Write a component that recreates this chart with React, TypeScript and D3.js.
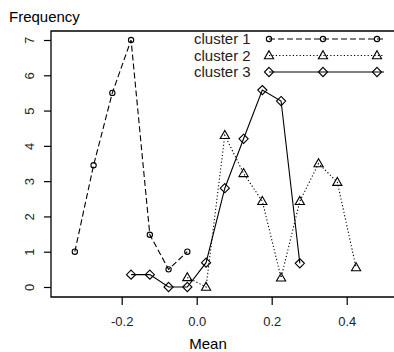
import React, { useEffect, useRef } from "react";
import * as d3 from "d3";

// frequency of cluster means
const c1Mean = [-0.325, -0.275, -0.225, -0.175, -0.125, -0.075, -0.025];
const c1Freq = [1.0, 3.45, 5.5, 7.0, 1.48, 0.5, 1.0];
const c2Mean = [-0.025, 0.025, 0.075, 0.125, 0.175, 0.225, 0.275, 0.325, 0.375, 0.425];
const c2Freq = [0.27, 0.0, 4.3, 3.22, 2.43, 0.26, 2.43, 3.5, 2.97, 0.55];
const c3Mean = [-0.175, -0.125, -0.075, -0.025, 0.025, 0.075, 0.125, 0.175, 0.225, 0.275];
const c3Freq = [0.35, 0.35, 0.0, 0.0, 0.69, 2.8, 4.2, 5.58, 5.27, 0.67];

const legendLabels = ["cluster 1", "cluster 2", "cluster 3"];
const xTicks = [-0.2, 0.0, 0.2, 0.4];
const yTicks = [0, 1, 2, 3, 4, 5, 6, 7];

const W = 394;
const H = 352;
const FONT = "'Liberation Sans', Arial, sans-serif";

const circlePath = d3.symbol(d3.symbolCircle, 22)()!;
const trianglePath = "M0,-4.8L4.6,3.2L-4.6,3.2Z";
const diamondPath = "M0,-4.6L4.6,0L0,4.6L-4.6,0Z";

const series = [
  { mean: c1Mean, freq: c1Freq, dash: "6,3", marker: circlePath },
  { mean: c2Mean, freq: c2Freq, dash: "1.2,2.2", marker: trianglePath },
  { mean: c3Mean, freq: c3Freq, dash: null, marker: diamondPath },
];

export default function App() {
  const ref = useRef<SVGSVGElement>(null);

  useEffect(() => {
    const svg = d3.select(ref.current);
    svg.selectAll("*").remove();

    const left = 51,
      top = 31,
      bottom = 297;

    const x = d3.scaleLinear().domain([-0.2, 0.4]).range([121.7, 346.7]);
    const y = d3.scaleLinear().domain([0, 7]).range([287, 40]);

    svg.append("rect").attr("width", W).attr("height", H).attr("fill", "white");

    // box (cut off on the right in the original)
    svg
      .append("path")
      .attr("d", `M${W},${top}H${left}V${bottom}H${W}`)
      .attr("fill", "none")
      .attr("stroke", "black")
      .attr("stroke-width", 1.3);

    const xAxis = svg
      .append("g")
      .attr("transform", `translate(0,${bottom})`)
      .call(
        d3
          .axisBottom(x)
          .tickValues(xTicks)
          .tickSize(8)
          .tickPadding(12)
          .tickFormat(d3.format(".1f"))
      );
    xAxis.select(".domain").remove();
    xAxis.selectAll("line").attr("stroke-width", 1.2);
    xAxis
      .selectAll("text")
      .attr("font-family", FONT)
      .attr("font-size", 13)
      .attr("fill", "#222")
      .text((d: any) => d3.format(".1f")(d).replace("−", "-"));

    const yAxis = svg
      .append("g")
      .attr("transform", `translate(${left},0)`)
      .call(d3.axisLeft(y).tickValues(yTicks).tickSize(7).tickFormat(d3.format("d")));
    yAxis.select(".domain").remove();
    yAxis.selectAll("line").attr("stroke-width", 1.2);
    yAxis
      .selectAll("text")
      .attr("font-family", FONT)
      .attr("font-size", 13)
      .attr("fill", "#222")
      .attr("x", null)
      .attr("dy", null)
      .attr("text-anchor", "middle")
      .attr("transform", "translate(-17,0) rotate(-90)");

    svg
      .append("text")
      .attr("x", 9)
      .attr("y", 22)
      .attr("font-family", FONT)
      .attr("font-size", 15)
      .text("Frequency");

    svg
      .append("text")
      .attr("x", 208)
      .attr("y", 349)
      .attr("text-anchor", "middle")
      .attr("font-family", FONT)
      .attr("font-size", 15)
      .text("Mean");

    const line = d3
      .line<[number, number]>()
      .x((d) => x(d[0]))
      .y((d) => y(d[1]));

    series.forEach((s) => {
      const pts = s.mean.map((m, i) => [m, s.freq[i]] as [number, number]);
      svg
        .append("path")
        .datum(pts)
        .attr("d", line)
        .attr("fill", "none")
        .attr("stroke", "black")
        .attr("stroke-width", 1.1)
        .attr("stroke-dasharray", s.dash);
      svg
        .selectAll(null)
        .data(pts)
        .join("path")
        .attr("d", s.marker)
        .attr("transform", (d) => `translate(${x(d[0])},${y(d[1])})`)
        .attr("fill", "none")
        .attr("stroke", "black")
        .attr("stroke-width", 1.1);
    });

    // legend
    const legendY = d3.scalePoint<string>().domain(legendLabels).range([39, 72]);
    const markX = [269, 323, 377];
    legendLabels.forEach((lab, i) => {
      const ly = legendY(lab)!;
      svg
        .append("text")
        .attr("x", 194)
        .attr("y", ly + 5)
        .attr("font-family", FONT)
        .attr("font-size", 15)
        .attr("fill", "#222")
        .text(lab);
      svg
        .append("line")
        .attr("x1", 269)
        .attr("x2", 384)
        .attr("y1", ly)
        .attr("y2", ly)
        .attr("stroke", "black")
        .attr("stroke-width", 1.1)
        .attr("stroke-dasharray", series[i].dash);
      markX.forEach((mx) => {
        svg
          .append("path")
          .attr("d", series[i].marker)
          .attr("transform", `translate(${mx},${ly})`)
          .attr("fill", "none")
          .attr("stroke", "black")
          .attr("stroke-width", 1.1);
      });
    });
  }, []);

  return (
    <svg
      ref={ref}
      width={W}
      height={H}
      style={{ position: "absolute", left: 0, top: 0, display: "block" }}
    />
  );
}
